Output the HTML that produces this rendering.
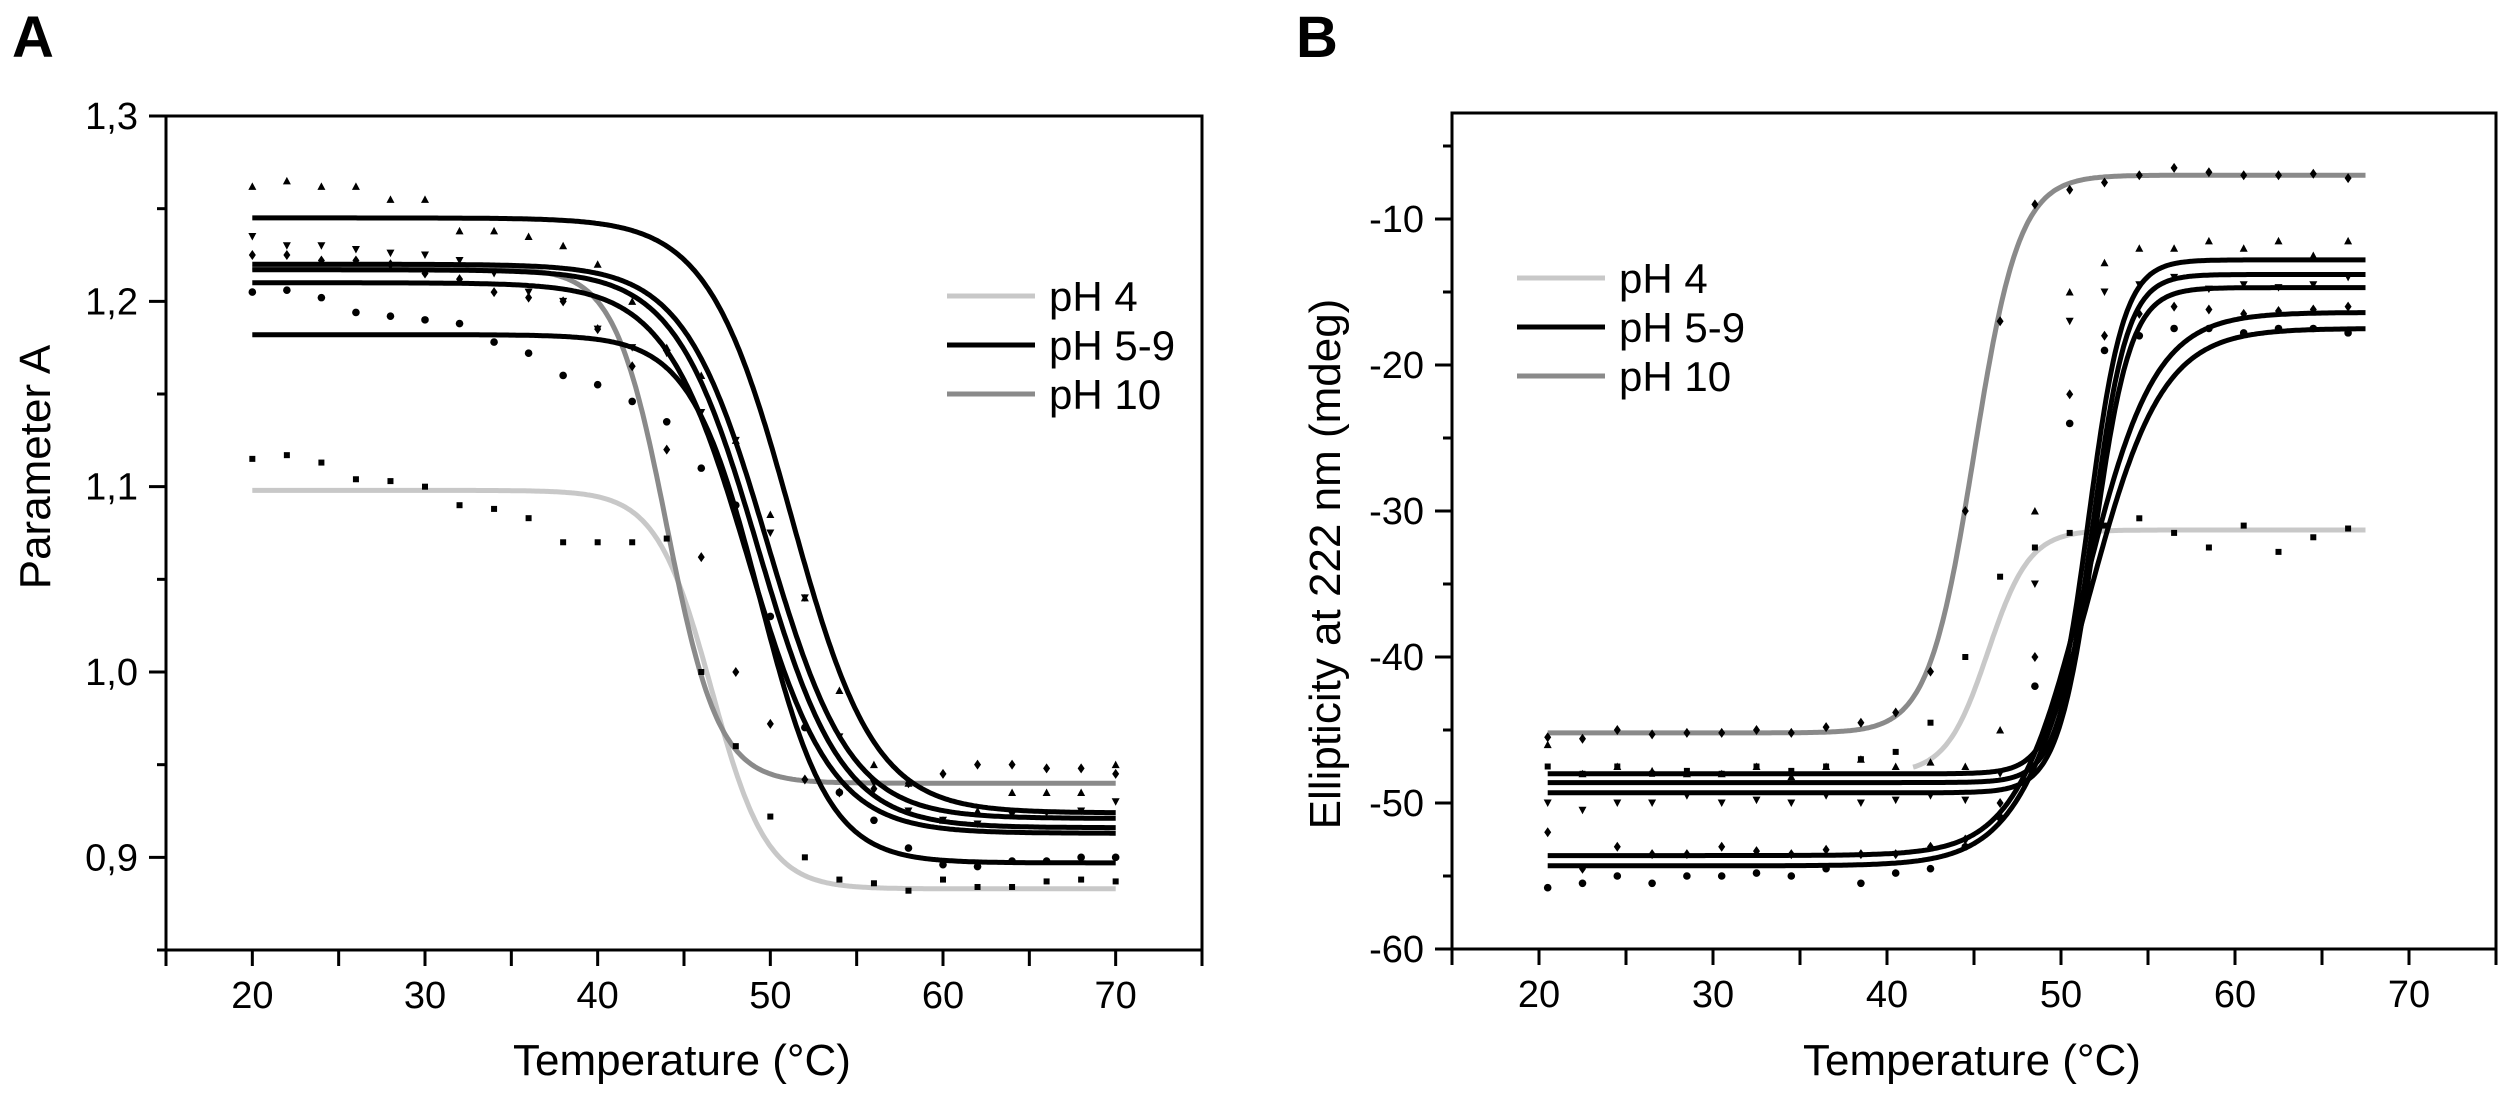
<!DOCTYPE html>
<html><head><meta charset="utf-8">
<style>
html,body{margin:0;padding:0;background:#fff;}
svg{display:block;font-family:"Liberation Sans",Arial,sans-serif;}
</style></head>
<body>
<svg id="fig" width="2500" height="1101" viewBox="0 0 2500 1101" xmlns="http://www.w3.org/2000/svg">
<text x="12" y="57" font-size="58" font-weight="bold">A</text>
<text x="1296" y="57" font-size="58" font-weight="bold">B</text>
<g id="pa"></g>
<g id="pb"></g>
</svg>
<script>
// ---------- Panel A data ----------
const aSeriesNames = ["pH 4","pH 10","pH 5-9 a","pH 5-9 b","pH 5-9 c","pH 5-9 d","pH 5-9 e"];
const aTop    = [1.098, 1.218, 1.245, 1.220, 1.217, 1.210, 1.182];
const aBottom = [0.883, 0.940, 0.924, 0.921, 0.916, 0.913, 0.897];
const aTm     = [46.6, 44.0, 51.2, 49.8, 49.3, 48.7, 49.4];
const aWidth  = [1.6, 1.5, 2.4, 2.4, 2.4, 2.4, 2.0];
const aStart  = [20, 20, 20, 20, 20, 20, 20];
const aColors = ["#c8c8c8","#8a8a8a","#000","#000","#000","#000","#000"];
const aTemps = [20,22,24,26,28,30,32,34,36,38,40,42,44,46,48,50,52,54,56,58,60,62,64,66,68,70];
const aPts4  = [1.115,1.117,1.113,1.104,1.103,1.100,1.090,1.088,1.083,1.070,1.070,1.070,1.072,1.000,0.960,0.922,0.900,0.888,0.886,0.882,0.888,0.884,0.884,0.887,0.888,0.887];
const aPts10 = [1.225,1.225,1.222,1.222,1.220,1.215,1.212,1.205,1.202,1.200,1.185,1.165,1.120,1.062,1.000,0.972,0.942,0.935,0.937,0.940,0.945,0.950,0.950,0.948,0.948,0.945];
const aPtsUp = [1.262,1.265,1.262,1.262,1.255,1.255,1.238,1.238,1.235,1.230,1.220,1.200,1.175,1.160,1.125,1.085,1.040,0.990,0.950,0.940,0.920,0.925,0.935,0.935,0.935,0.950];
const aPtsDn = [1.235,1.230,1.230,1.228,1.226,1.225,1.222,1.215,1.205,1.200,1.185,1.175,1.172,1.140,1.125,1.075,1.040,0.965,0.940,0.925,0.920,0.918,0.923,0.924,0.925,0.930];
const aPtsCi = [1.205,1.206,1.202,1.194,1.192,1.190,1.188,1.178,1.172,1.160,1.155,1.146,1.135,1.110,1.090,1.030,0.970,0.935,0.920,0.905,0.896,0.895,0.898,0.898,0.900,0.900];
const aYTicks = [0.9,1.0,1.1,1.2,1.3];
const aYTickLabels = ["0,9","1,0","1,1","1,2","1,3"];
const xTicks = [20,30,40,50,60,70];
const xTickLabels = ["20","30","40","50","60","70"];

// ---------- Panel B data ----------
const bSeriesNames = ["pH 4","pH 10","pH 5-9 a","pH 5-9 b","pH 5-9 c","pH 5-9 d","pH 5-9 e"];
const bLow  = [-48.0, -45.2, -48.0, -48.6, -49.3, -53.6, -54.3];
const bHigh = [-31.3, -7.0, -12.8, -13.8, -14.7, -16.4, -17.5];
const bTm   = [45.8, 45.0, 51.6, 51.8, 51.9, 51.4, 51.6];
const bWidth= [1.2, 1.3, 1.0, 1.0, 1.05, 2.0, 2.1];
const bStart= [41.5, 20.5, 20.5, 20.5, 20.5, 20.5, 20.5];
const bColors = ["#c8c8c8","#8a8a8a","#000","#000","#000","#000","#000"];
const bTemps = [20.5,22.5,24.5,26.5,28.5,30.5,32.5,34.5,36.5,38.5,40.5,42.5,44.5,46.5,48.5,50.5,52.5,54.5,56.5,58.5,60.5,62.5,64.5,66.5];
const bPts4  = [-47.5,-48,-47.5,-48,-47.8,-48,-47.5,-47.8,-47.5,-47,-46.5,-44.5,-40,-34.5,-32.5,-31.5,-31,-30.5,-31.5,-32.5,-31,-32.8,-31.8,-31.2];
const bPts10 = [-45.5,-45.6,-45,-45.3,-45.2,-45.2,-45,-45.2,-44.8,-44.5,-43.8,-41,-30,-17,-9,-8,-7.5,-7,-6.5,-6.8,-7,-7,-6.9,-7.2];
const bPtsA  = [-46,-48,-47.5,-47.8,-48,-48,-47.5,-48.2,-47.5,-47,-47.5,-47.2,-47.5,-45,-30,-15,-13,-12,-12,-11.5,-12,-11.5,-12.5,-11.5];
const bPtsB  = [-50,-50.5,-50,-50,-49.5,-50,-49.8,-50,-49.5,-50,-49.8,-49.5,-49.8,-48,-35,-17,-15,-14.5,-14,-14.8,-14.5,-14.7,-14.5,-14];
const bPtsC  = [-52,-54.5,-53,-53.5,-53.5,-53,-53.3,-53.5,-53.2,-53.5,-53.5,-53,-52.5,-50,-40,-22,-18,-16.5,-16,-16.2,-16.5,-16.3,-16.2,-16];
const bPtsD  = [-55.8,-55.5,-55,-55.5,-55,-55,-54.8,-55,-54.5,-55.5,-54.8,-54.5,-53,-51,-42,-24,-19,-18,-17.5,-17.5,-17.8,-17.5,-17.5,-17.8];
const bYTicks = [-60,-50,-40,-30,-20,-10];
const bYTickLabels = ["-60","-50","-40","-30","-20","-10"];
const legendLabels = ["pH 4","pH 5-9","pH 10"];
const legendColors = ["#c8c8c8","#000","#8a8a8a"];

const NS="http://www.w3.org/2000/svg";
function mk(parent,tag,attrs){const e=document.createElementNS(NS,tag);for(const k in attrs)e.setAttribute(k,attrs[k]);parent.appendChild(e);return e;}

function panel(g, o){
  const X=v=>o.x0+(v-o.xmin)/(o.xmax-o.xmin)*(o.x1-o.x0);
  const Y=v=>o.y1-(v-o.ymin)/(o.ymax-o.ymin)*(o.y1-o.y0);
  o.curves.forEach((c,i)=>{
    let d="";
    const n=Math.round((o.tEnd-c.start)/0.1);
    for(let k=0;k<=n;k++){
      const t=c.start+(o.tEnd-c.start)*k/n;
      const v=c.f(t);d+=(d?"L":"M")+X(t).toFixed(1)+","+Y(v).toFixed(1);
    }
    const p=mk(g,"path",{d:d,fill:"none",stroke:c.color,"stroke-width":5,"stroke-linejoin":"round"});
    
    
  });
  o.points.forEach(s=>{
    s.vals.forEach((v,j)=>{
      const cx=X(s.temps[j]),cy=Y(v);let e;
      if(s.shape==="up") e=mk(g,"path",{d:`M${cx-4},${cy+3.5}L${cx+4},${cy+3.5}L${cx},${cy-4}Z`,fill:"#000"});
      else if(s.shape==="dn") e=mk(g,"path",{d:`M${cx-4},${cy-3.5}L${cx+4},${cy-3.5}L${cx},${cy+4}Z`,fill:"#000"});
      else if(s.shape==="di") e=mk(g,"path",{d:`M${cx},${cy-5}L${cx+3.5},${cy}L${cx},${cy+5}L${cx-3.5},${cy}Z`,fill:"#000"});
      else if(s.shape==="sq") e=mk(g,"rect",{x:cx-3,y:cy-3,width:6,height:6,fill:"#000"});
      else e=mk(g,"circle",{cx:cx,cy:cy,r:3.8,fill:"#000"});
      
      
    });
  });
  const fr=mk(g,"rect",{x:o.x0,y:o.y0,width:o.x1-o.x0,height:o.y1-o.y0,fill:"none",stroke:"#000","stroke-width":3});
  
  
  o.yMinor.forEach(v=>{const l=mk(g,"line",{x1:o.x0-9,x2:o.x0,y1:Y(v),y2:Y(v),stroke:"#000","stroke-width":3});
    
    });
  o.yTicks.forEach((v,i)=>{
    const l=mk(g,"line",{x1:o.x0-17,x2:o.x0,y1:Y(v),y2:Y(v),stroke:"#000","stroke-width":3});
    
    
    const t=mk(g,"text",{x:o.x0-28,y:Y(v)+13,"font-size":38,"text-anchor":"end"});t.textContent=o.yLabels[i];
    
    
  });
  for(let v=15;v<=75;v+=5){const l=mk(g,"line",{x1:X(v),x2:X(v),y1:o.y1,y2:o.y1+16,stroke:"#000","stroke-width":3});
    
    }
  xTicks.forEach((v,i)=>{const t=mk(g,"text",{x:X(v),y:o.y1+58,"font-size":38,"text-anchor":"middle"});t.textContent=xTickLabels[i];
    
    });
  const xt=mk(g,"text",{x:(o.x0+o.x1)/2-2,y:1075,"font-size":44,"text-anchor":"middle"});xt.textContent="Temperature (°C)";
  
  
  const yt=mk(g,"text",{x:0,y:0,"font-size":44,"text-anchor":"middle",transform:`translate(${o.ytx},${o.yty}) rotate(-90)`});yt.textContent=o.ytitle;
  
  
  legendLabels.forEach((lb,i)=>{
    const y=o.legY+i*49;
    const l=mk(g,"line",{x1:o.legX,x2:o.legX+88,y1:y,y2:y,stroke:legendColors[i],"stroke-width":5});
    
    
    const t=mk(g,"text",{x:o.legX+102,y:y+15,"font-size":42});t.textContent=lb;
    
    
  });
}

const aCurves=aTop.map((tp,i)=>({name:aSeriesNames[i],color:aColors[i],start:aStart[i],f:t=>aBottom[i]+(tp-aBottom[i])/(1+Math.exp((t-aTm[i])/aWidth[i]))}));
const bCurves=bLow.map((lo,i)=>({name:bSeriesNames[i],color:bColors[i],start:bStart[i],f:t=>bHigh[i]+(lo-bHigh[i])/(1+Math.exp((t-bTm[i])/bWidth[i]))}));

panel(document.getElementById("pa"),{
  x0:166,x1:1202,y0:116,y1:950,xmin:15,xmax:75,ymin:0.85,ymax:1.30,tEnd:70,
  curves:aCurves,
  points:[{temps:aTemps,vals:aPts4,shape:"sq"},{temps:aTemps,vals:aPts10,shape:"di"},{temps:aTemps,vals:aPtsUp,shape:"up"},{temps:aTemps,vals:aPtsDn,shape:"dn"},{temps:aTemps,vals:aPtsCi,shape:"ci"}],
  yTicks:aYTicks,yLabels:aYTickLabels,yMinor:[0.85,0.95,1.05,1.15,1.25],
  ytitle:"Parameter A",ytx:50,yty:467,legX:947,legY:296
});
panel(document.getElementById("pb"),{
  x0:1452,x1:2496,y0:113,y1:949,xmin:15,xmax:75,ymin:-60,ymax:-2.74,tEnd:67.5,
  curves:bCurves,
  points:[{temps:bTemps,vals:bPts4,shape:"sq"},{temps:bTemps,vals:bPts10,shape:"di"},{temps:bTemps,vals:bPtsA,shape:"up"},{temps:bTemps,vals:bPtsB,shape:"dn"},{temps:bTemps,vals:bPtsC,shape:"di"},{temps:bTemps,vals:bPtsD,shape:"ci"}],
  yTicks:bYTicks,yLabels:bYTickLabels,yMinor:[-55,-45,-35,-25,-15,-5],
  ytitle:"Ellipticity at 222 nm (mdeg)",ytx:1340,yty:564,legX:1517,legY:278
});
</script>
</body></html>
